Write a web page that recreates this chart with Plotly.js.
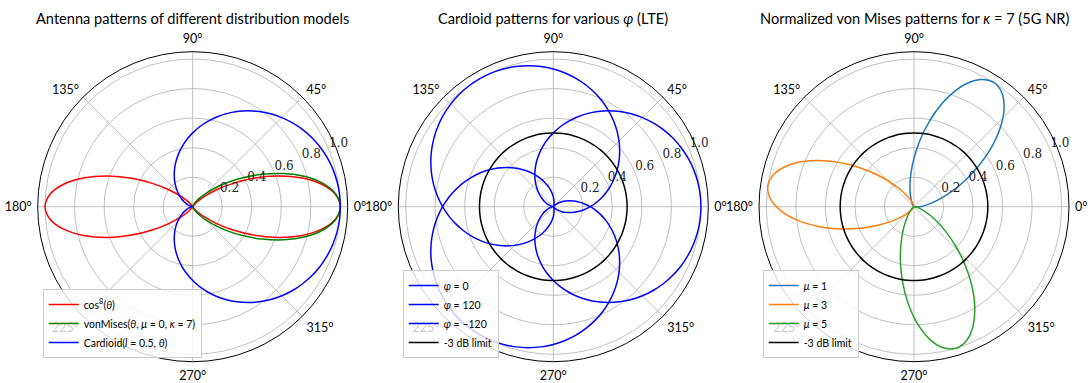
<!DOCTYPE html>
<html><head><meta charset="utf-8">
<script src="https://cdn.plot.ly/plotly-3.0.1.min.js"></script>
<style>html,body{margin:0;padding:0;background:#fff}#chart{width:1090px;height:383px}</style>
</head><body><div id="chart"></div><script>
// Shared angle samples (degrees)
const thetaDeg = [0,5,10,15,20,25,30,35,40,45,50,55,60,65,70,75,80,85,90,95,100,105,110,115,120,125,130,135,140,145,150,155,160,165,170,175,180,185,190,195,200,205,210,215,220,225,230,235,240,245,250,255,260,265,270,275,280,285,290,295,300,305,310,315,320,325,330,335,340,345,350,355,360];

// cos^8(theta)
const cos8R = [1,.9699,.8847,.7578,.6080,.4552,.3164,.2027,.1186,.0625,.0291,.0117,.0039,.0010,.0002,0,0,0,0,0,0,0,.0002,.0010,.0039,.0117,.0291,.0625,.1186,.2027,.3164,.4552,.6080,.7578,.8847,.9699,1,
  .9699,.8847,.7578,.6080,.4552,.3164,.2027,.1186,.0625,.0291,.0117,.0039,.0010,.0002,0,0,0,0,0,0,0,.0002,.0010,.0039,.0117,.0291,.0625,.1186,.2027,.3164,.4552,.6080,.7578,.8847,.9699,1];

// normalized von Mises, kappa = 7, mu = 0
const vonMisesR = [1,.9737,.8991,.7878,.6557,.5190,.3915,.2820,.1944,.1287,.0820,.0505,.0302,.0176,.0100,.0056,.0031,.0017,.0009,.0005,.0003,.0002,.0001,.0001,0,0,0,0,0,0,0,0,0,0,0,0,0,
  0,0,0,0,0,0,0,0,0,0,0,0,.0001,.0001,.0002,.0003,.0005,.0009,.0017,.0031,.0056,.0100,.0176,.0302,.0505,.0820,.1287,.1944,.2820,.3915,.5190,.6557,.7878,.8991,.9737,1];

// Cardioid, l = 0.5
const cardioidR = [1,.9981,.9924,.9830,.9698,.9532,.9330,.9096,.8830,.8536,.8214,.7868,.75,.7113,.6710,.6294,.5868,.5436,.5,.4564,.4132,.3706,.3290,.2887,.25,.2132,.1786,.1464,.1170,.0904,.0670,.0468,.0302,.0170,.0076,.0019,0,
  .0019,.0076,.0170,.0302,.0468,.0670,.0904,.1170,.1464,.1786,.2132,.25,.2887,.3290,.3706,.4132,.4564,.5,.5436,.5868,.6294,.6710,.7113,.75,.7868,.8214,.8536,.8830,.9096,.9330,.9532,.9698,.9830,.9924,.9981,1];

const phiValues = [0, 120, -120];         // degrees (LTE cardioids)
const phiLabels = ['<i>φ</i> = 0', '<i>φ</i> = 120', '<i>φ</i> = −120'];
const muValues = [1, 3, 5];               // radians (5G NR von Mises)
const muLabels = ['<i>μ</i> = 1', '<i>μ</i> = 3', '<i>μ</i> = 5'];
const muColors = ['#1f77b4', '#ff7f0e', '#2ca02c'];
const limitLevel = 0.5;                   // -3 dB limit
const radialTicks = [0.2, 0.4, 0.6, 0.8, 1.0];
const radialTickText = ['0.2', '0.4', '0.6', '0.8', '1.0'];
const radialLabelAngle = 22.5;
const angularTicks = [0, 45, 90, 135, 180, 225, 270, 315];
const angularTickText = ['0°', '45°', '90°', '135°', '180°', '225°', '270°', '315°'];
const titles = ['Antenna patterns of different distribution models',
  'Cardioid patterns for various <i>φ</i> (LTE)',
  'Normalized von Mises patterns for <i>κ</i> = 7 (5G NR)'];

const limitR = thetaDeg.map(() => limitLevel);
const traces = [];
const LW = 1.5;
function ln(color) { return {color: color, width: LW, shape: 'spline', smoothing: 1}; }
function radialLabels(subplot) {
  return {type:'scatterpolar', mode:'text', r:radialTicks, theta:radialTicks.map(() => radialLabelAngle),
    text:radialTickText, textposition:'top right', subplot:subplot, showlegend:false, hoverinfo:'skip',
    textfont:{family:'DejaVu Serif', size:12, color:'#222'}};
}
traces.push({type:'scatterpolar', mode:'lines', r:cos8R, theta:thetaDeg, subplot:'polar', legend:'legend', name:'cos<sup>8</sup>(<i>θ</i>)', line:ln('#ff0000')});
traces.push({type:'scatterpolar', mode:'lines', r:vonMisesR, theta:thetaDeg, subplot:'polar', legend:'legend', name:'vonMises(<i>θ</i>, <i>μ</i> = 0, <i>κ</i> = 7)', line:ln('#008000')});
traces.push({type:'scatterpolar', mode:'lines', r:cardioidR, theta:thetaDeg, subplot:'polar', legend:'legend', name:'Cardioid(<i>l</i> = 0.5, <i>θ</i>)', line:ln('#0000ff')});
traces.push(radialLabels('polar'));
phiValues.forEach((phi, i) => {
  traces.push({type:'scatterpolar', mode:'lines', r:cardioidR, theta:thetaDeg.map(t => t + phi), subplot:'polar2', legend:'legend2', name:phiLabels[i], line:ln('#0000ff')});
});
traces.push({type:'scatterpolar', mode:'lines', r:limitR, theta:thetaDeg, subplot:'polar2', legend:'legend2', name:'-3 dB limit', line:ln('#000000')});
traces.push(radialLabels('polar2'));
muValues.forEach((mu, i) => {
  traces.push({type:'scatterpolar', mode:'lines', r:vonMisesR, theta:thetaDeg.map(t => t + mu*180/Math.PI), subplot:'polar3', legend:'legend3', name:muLabels[i], line:ln(muColors[i])});
});
traces.push({type:'scatterpolar', mode:'lines', r:limitR, theta:thetaDeg, subplot:'polar3', legend:'legend3', name:'-3 dB limit', line:ln('#000000')});
traces.push(radialLabels('polar3'));

const W = 1090, H = 383, R = 155, CY = 206.7;
const centersX = [192.7, 553.3, 914];
function polarCfg(cx) {
  return {
    domain: {x: [(cx - R) / W, (cx + R) / W], y: [(H - CY - R) / H, (H - CY + R) / H]},
    bgcolor: 'white',
    radialaxis: {range: [0, 1.05], tickmode: 'array', tickvals: radialTicks, ticktext: radialTickText,
      angle: radialLabelAngle, showticklabels: false, showline: false, ticks: '',
      gridcolor: '#b0b0b0', gridwidth: 0.8},
    angularaxis: {tickmode: 'array', tickvals: angularTicks, ticktext: angularTickText,
      direction: 'counterclockwise', rotation: 0, ticks: 'outside', ticklen: 3, tickcolor: 'rgba(0,0,0,0)',
      linecolor: '#000', linewidth: 1,
      gridcolor: '#b0b0b0', gridwidth: 0.8, tickfont: {family: 'Lato', size: 12.5, color: '#000'}}
  };
}
function legendCfg(x0) {
  return {x: x0 / W, y: (H - 358) / H, xanchor: 'left', yanchor: 'bottom',
    bgcolor: 'rgba(255,255,255,0.8)', bordercolor: '#cccccc', borderwidth: 1,
    font: {family: 'Lato', size: 10.5, color: '#000'}, itemwidth: 30, tracegroupgap: 0};
}
const layout = {
  width: W, height: H, margin: {l: 0, r: 0, t: 0, b: 0},
  paper_bgcolor: 'white', showlegend: true,
  polar: polarCfg(centersX[0]), polar2: polarCfg(centersX[1]), polar3: polarCfg(centersX[2]),
  legend: legendCfg(42.7), legend2: legendCfg(402.7), legend3: legendCfg(762.7),
  annotations: titles.map((t, i) => ({text: t, x: centersX[i] / W, y: (H - 18) / H, xref: 'paper', yref: 'paper',
    xanchor: 'center', yanchor: 'middle', showarrow: false, font: {family: 'Lato', size: 14.6, color: '#000'}}))
};
Plotly.newPlot('chart', traces, layout, {displayModeBar: false, staticPlot: true});
</script></body></html>
